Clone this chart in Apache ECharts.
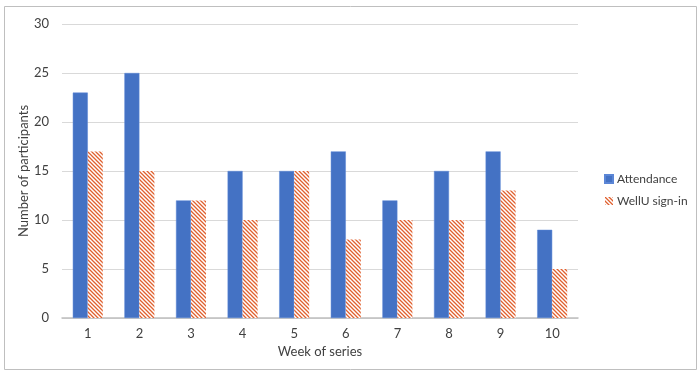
<!DOCTYPE html>
<html>
<head>
<meta charset="utf-8">
<script src="https://cdn.jsdelivr.net/npm/echarts@6/dist/echarts.min.js"></script>
<style>
  html, body { margin: 0; padding: 0; background: #fff; }
  #chart { width: 700px; height: 377px; }
</style>
</head>
<body>
<div id="chart"></div>
<script>
// === DATA ===
const weeks = ['1', '2', '3', '4', '5', '6', '7', '8', '9', '10'];
const attendance = [23, 25, 12, 15, 15, 17, 12, 15, 17, 9];
const wellUSignIn = [17, 15, 12, 10, 15, 8, 10, 10, 13, 5];

// === HATCH PATTERN ===
function makeHatch() {
    const c = document.createElement('canvas');
    c.width = 4;
    c.height = 4;
    const ctx = c.getContext('2d');
    ctx.fillStyle = '#ffffff';
    ctx.fillRect(0, 0, 4, 4);
    ctx.strokeStyle = '#E0602E';
    ctx.lineWidth = 1.3;
    ctx.beginPath();
    ctx.moveTo(-1, -1); ctx.lineTo(5, 5);
    ctx.moveTo(-3, 1); ctx.lineTo(1, 5);
    ctx.moveTo(3, -1); ctx.lineTo(5, 1);
    ctx.stroke();
    return c;
}

const hatch = { image: makeHatch(), repeat: 'repeat' };
const font = 'Lato';

const chart = echarts.init(document.getElementById('chart'));

chart.setOption({
    animation: false,
    textStyle: { fontFamily: font, color: '#595959' },
    graphic: [{
        type: 'rect',
        shape: { x: 4.5, y: 6.5, width: 692, height: 363 },
        style: { fill: 'none', stroke: '#bfbfbf', lineWidth: 1 },
        silent: true
    }],
    legend: {
        orient: 'vertical',
        left: 599,
        top: 168,
        itemWidth: 8,
        itemHeight: 8,
        itemGap: 10,
        icon: 'rect',
        textStyle: { fontFamily: font, fontSize: 12, color: '#404040', padding: [0, 0, 0, -1] },
        data: ['Attendance', 'WellU sign-in']
    },
    grid: { left: 62, right: 122, top: 24, bottom: 59, containLabel: false },
    xAxis: {
        type: 'category',
        data: weeks,
        name: 'Week of series',
        nameLocation: 'middle',
        nameGap: 25,
        nameTextStyle: { fontFamily: font, fontSize: 13, color: '#404040' },
        axisLine: { lineStyle: { color: '#bfbfbf', width: 1.5 } },
        axisTick: { show: false },
        axisLabel: { fontFamily: font, fontSize: 13, color: '#404040', margin: 9 }
    },
    yAxis: {
        type: 'value',
        min: 0,
        max: 30,
        interval: 5,
        name: 'Number of participants',
        nameLocation: 'middle',
        nameGap: 32,
        nameMoveOverlap: false,
        nameTextStyle: { fontFamily: font, fontSize: 13, color: '#404040' },
        axisLine: { show: false },
        axisTick: { show: false },
        axisLabel: { fontFamily: font, fontSize: 13, color: '#404040', margin: 13 },
        splitLine: { lineStyle: { color: '#d9d9d9', width: 1 } }
    },
    series: [{
        name: 'Attendance',
        type: 'bar',
        data: attendance,
        barWidth: 15,
        barGap: '0%',
        itemStyle: { color: '#4472C4', borderColor: '#5b86d6', borderWidth: 0.5 }
    }, {
        name: 'WellU sign-in',
        type: 'bar',
        data: wellUSignIn,
        barWidth: 15,
        barGap: '0%',
        itemStyle: { color: hatch }
    }]
});
</script>
</body>
</html>
